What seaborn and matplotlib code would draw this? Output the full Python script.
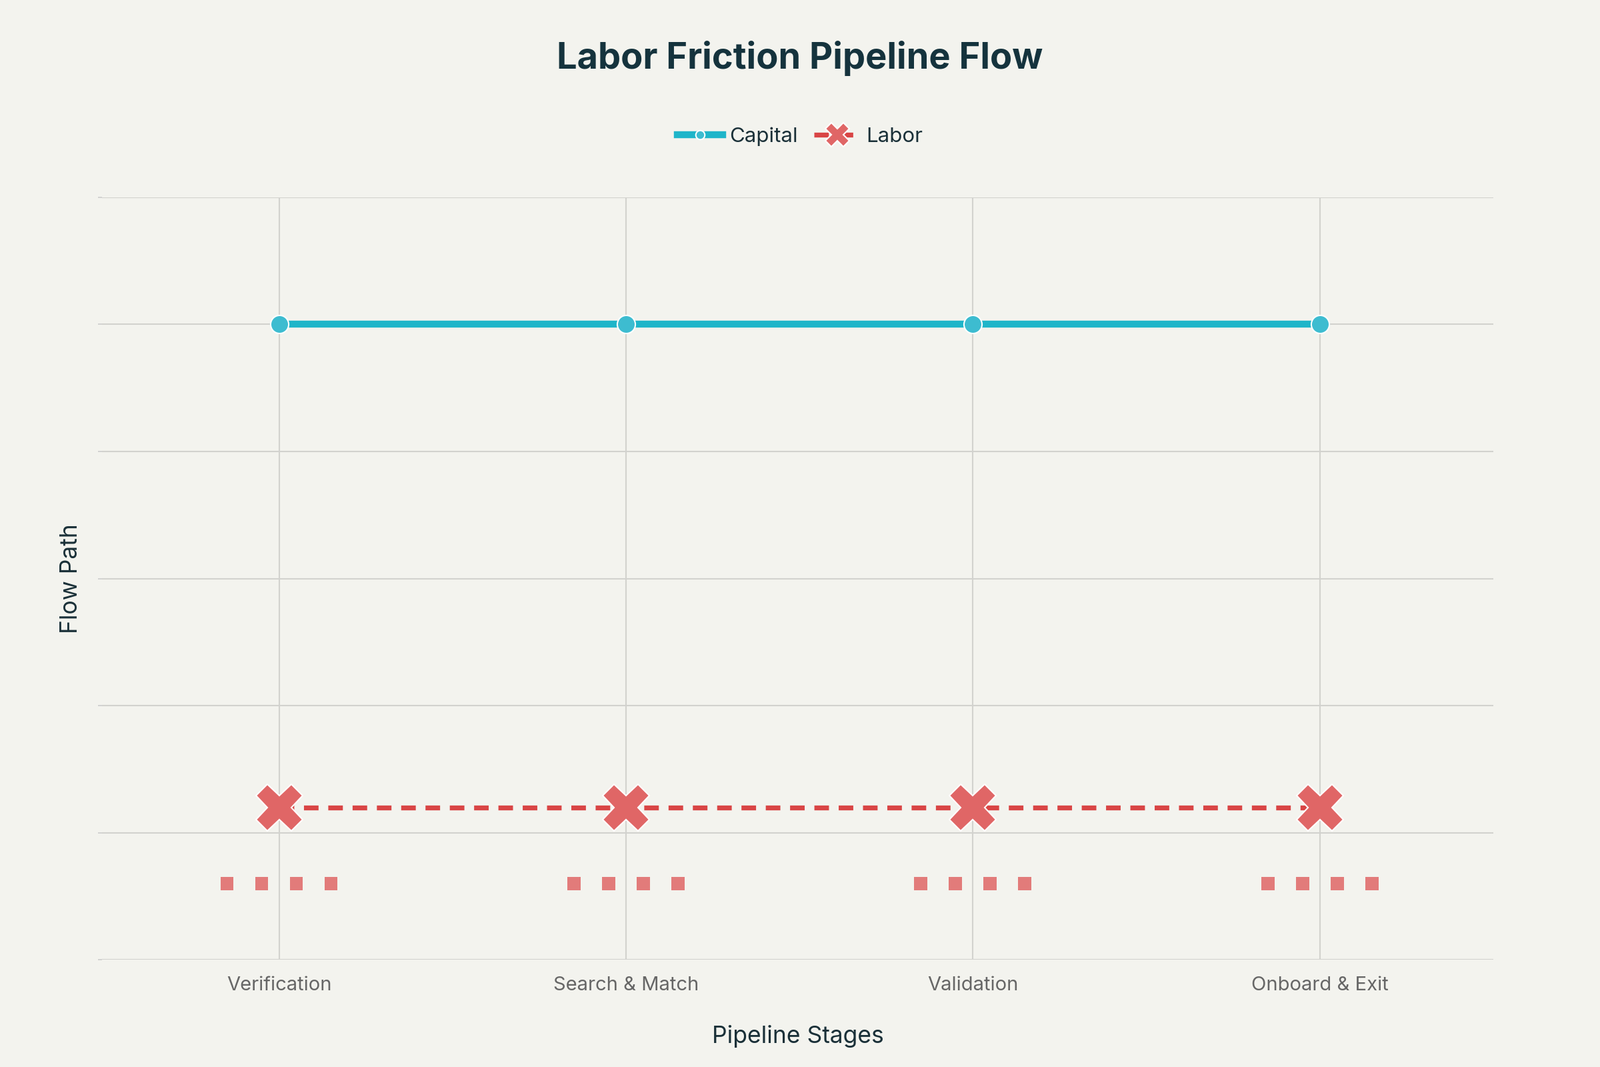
import matplotlib
matplotlib.use("Agg")
import matplotlib.pyplot as plt
import seaborn as sns
import pandas as pd

plt.rcParams["font.family"] = "Inter"

stages = ["Verification", "Search & Match", "Validation", "Onboard & Exit"]
capital_path = [5, 5, 5, 5]
labor_path = [1.2, 1.2, 1.2, 1.2]
friction_offsets = [-0.15, -0.05, 0.05, 0.15]
friction_level = 0.6

bg = "#F3F3EE"
cap_c = "#1FB5C9"
lab_c = "#D94545"
mark_c = "#E06666"

fig = plt.figure(figsize=(16, 10.667), dpi=150, facecolor=bg)
ax = fig.add_axes([0.0638, 0.1005, 0.8695, 0.7145])
ax.set_facecolor(bg)

xs = list(range(len(stages)))
cap_df = pd.DataFrame({"x": xs, "y": capital_path})
lab_df = pd.DataFrame({"x": xs, "y": labor_path})
fr_rows = [(i + o, friction_level) for i in xs for o in friction_offsets]
fr_df = pd.DataFrame(fr_rows, columns=["x", "y"])

sns.lineplot(data=cap_df, x="x", y="y", ax=ax, color=cap_c, lw=5, marker="o",
             markersize=13, markerfacecolor="#3DBCD0", markeredgecolor="white",
             markeredgewidth=1, label="Capital", zorder=3)
sns.lineplot(data=lab_df, x="x", y="y", ax=ax, color=lab_c, lw=3.5, linestyle=(0, (3, 2)),
             marker="X", markersize=34, markerfacecolor=mark_c, markeredgecolor="white",
             markeredgewidth=1, label="Labor", zorder=3)
sns.scatterplot(data=fr_df, x="x", y="y", ax=ax, marker="s", s=90, color=mark_c,
                edgecolor="none", alpha=0.85, legend=False, zorder=2)

ax.set_xlim(-0.51, 3.5)
ax.set_ylim(0, 6)
ax.set_xticks(xs)
ax.set_xticklabels(stages, fontsize=14, color="#666666")
ax.set_yticks(range(7))
ax.set_yticklabels([""] * 7)
ax.tick_params(axis="x", length=0, pad=12)
ax.tick_params(axis="y", length=3, color="#cccccc")
ax.grid(True, color="#d2d2ce", lw=1)
ax.set_axisbelow(True)
for s in ax.spines.values():
    s.set_visible(False)
ax.set_xlabel("Pipeline Stages", fontsize=17, color="#1a3038", labelpad=22)
ax.set_ylabel("Flow Path", fontsize=17, color="#1a3038", labelpad=8)

fig.suptitle("Labor Friction Pipeline Flow", fontsize=26, fontweight="bold",
             color="#15333D", y=0.962)
handles, labels = ax.get_legend_handles_labels()
ax.get_legend().remove()
leg = fig.legend(handles, labels, loc="center", bbox_to_anchor=(0.5, 0.872), ncol=2,
                 frameon=False, fontsize=15, handlelength=2.2, columnspacing=0.8,
                 handletextpad=0.3, markerscale=0.5)
for t in leg.get_texts():
    t.set_color("#1a3038")

fig.savefig("out.png", facecolor=bg)
